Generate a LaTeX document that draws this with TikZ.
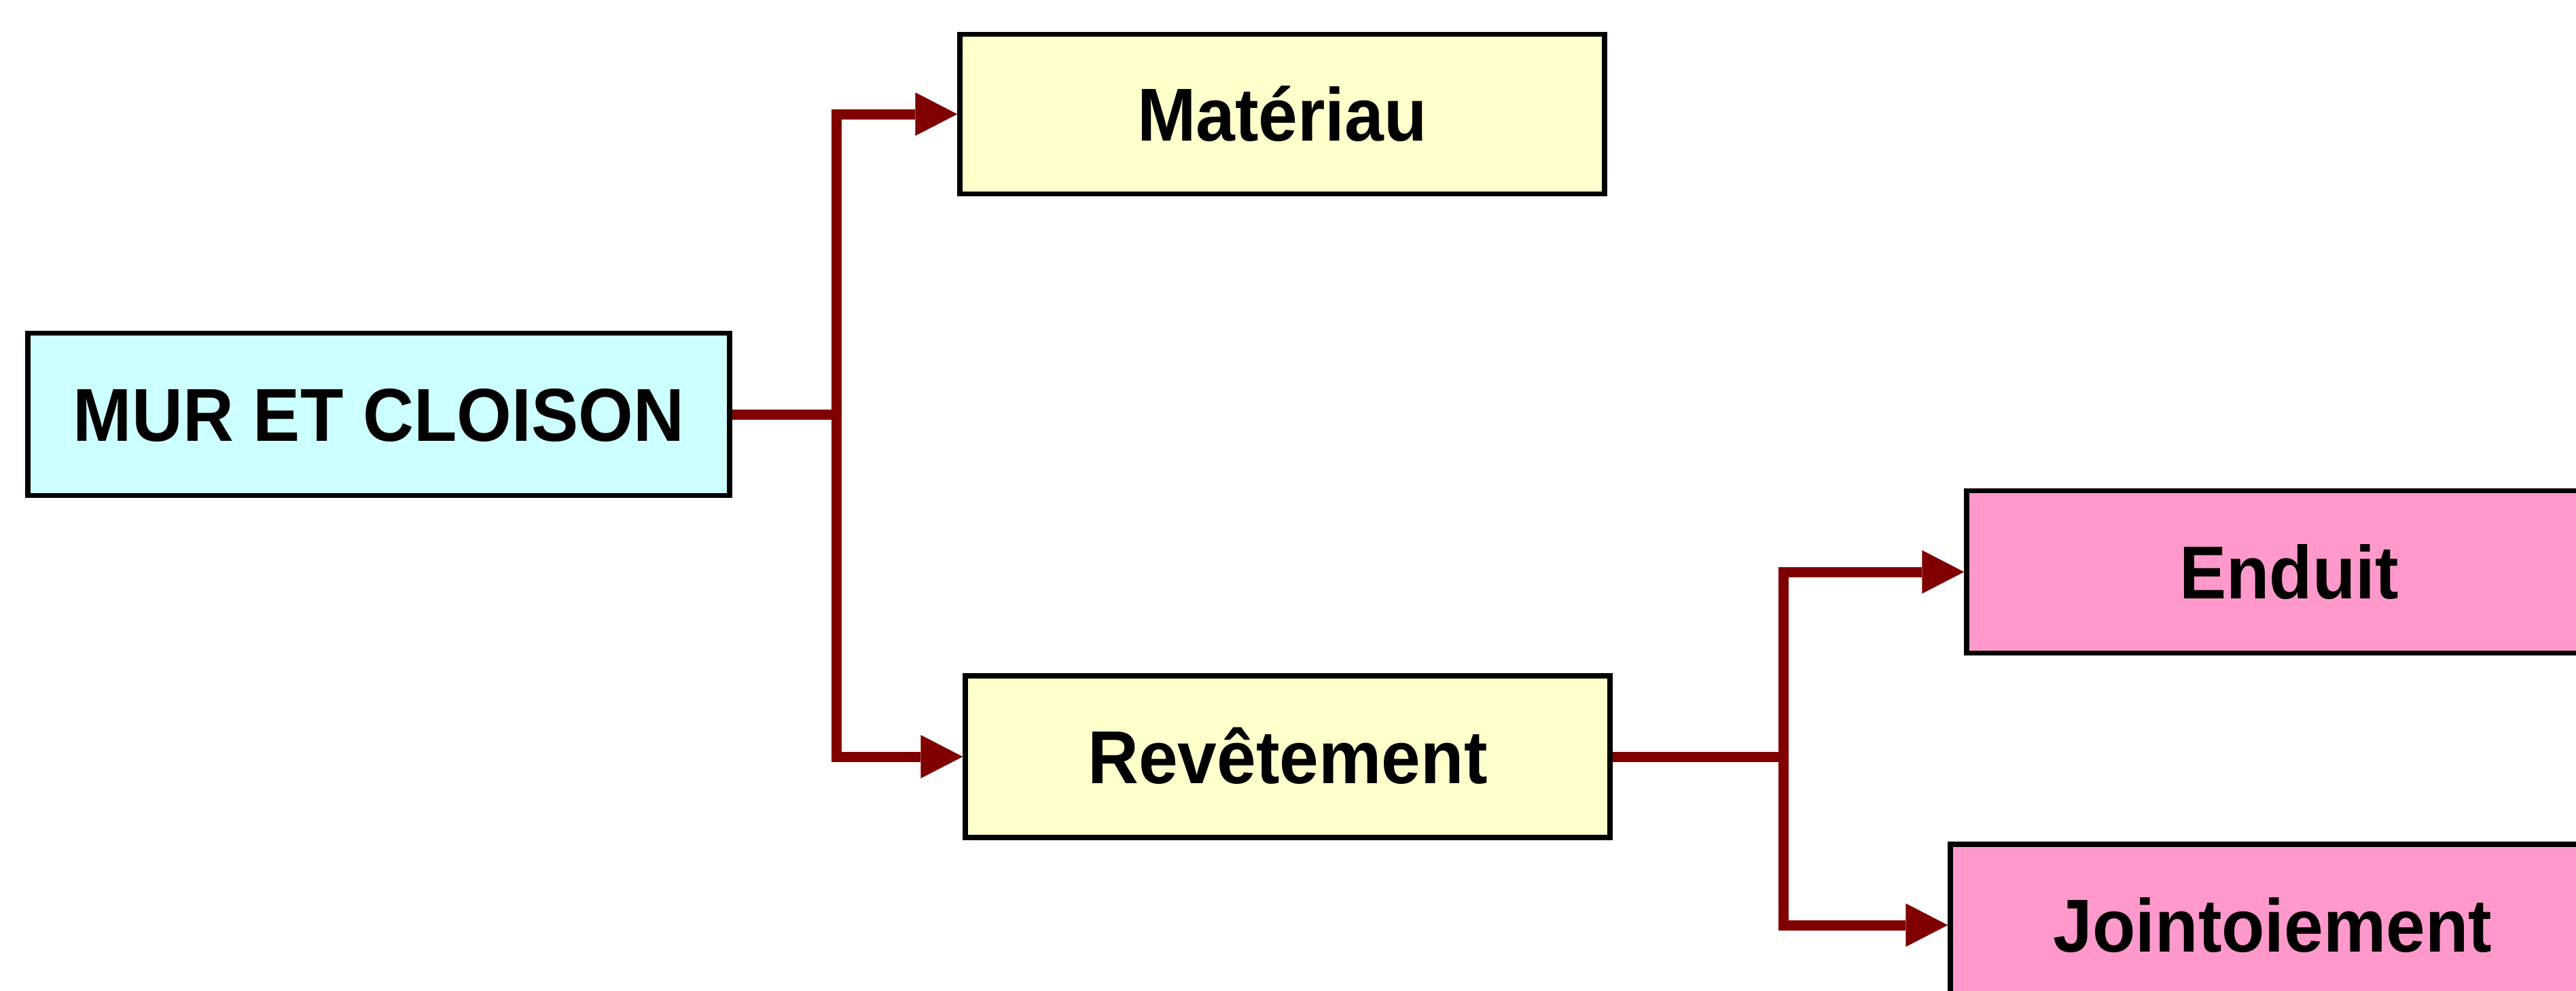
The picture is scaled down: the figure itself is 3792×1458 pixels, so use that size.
\documentclass[tikz,border=0pt]{standalone}
\usepackage{graphicx}
\usepackage{fontspec}
\setmainfont{Liberation Sans}
\usetikzlibrary{arrows.meta}
\definecolor{cyanbox}{HTML}{CCFFFF}
\definecolor{yellowbox}{HTML}{FFFFCC}
\definecolor{pinkbox}{HTML}{FF99CC}
\definecolor{linkred}{HTML}{800000}
\newcommand{\lbl}[1]{\scalebox{0.94}[1]{#1}}
\tikzset{
  box/.style={draw=black, line width=1.875pt, inner sep=0pt,
    minimum width=237.25pt, minimum height=59.5pt,
    text height=19.75pt, text depth=0pt,
    font=\fontsize{27.6pt}{30pt}\selectfont\bfseries},
  link/.style={draw=linkred, line width=3.75pt},
  arrowlink/.style={link, -{Triangle[length=15.5pt, width=16pt, line width=0pt]}}
}
\begin{document}
\begin{tikzpicture}[x=0.25pt, y=-0.25pt]
  \useasboundingbox (0,0) rectangle (3792,1458);
  \clip (0,0) rectangle (3792,1458);
  \fill[white] (0,0) rectangle (3792,1458);

  \node[box, fill=cyanbox, minimum width=258.25pt, minimum height=59.75pt] (mur) at (557.5,610) {\lbl{MUR ET CLOISON}};
  \node[box, fill=yellowbox, minimum height=58.75pt] (mat) at (1887.5,168) {\lbl{Matériau}};
  \node[box, fill=yellowbox] (rev) at (1895.5,1114) {\lbl{Revêtement}};
  \node[box, fill=pinkbox, minimum height=59.75pt] (end) at (3369.5,842) {\lbl{Enduit}};
  \node[box, fill=pinkbox] (joi) at (3345.5,1362) {\lbl{Jointoiement}};

  \coordinate (t1) at (1231,0);
  \coordinate (t2) at (2625,0);

  \draw[link] (mur.east) -- (mur.east -| t1);
  \draw[arrowlink] (mur.east -| t1) |- (mat.west);
  \draw[arrowlink] (mur.east -| t1) |- (rev.west);

  \draw[link] (rev.east) -- (rev.east -| t2);
  \draw[arrowlink] (rev.east -| t2) |- (end.west);
  \draw[arrowlink] (rev.east -| t2) |- (joi.west);
\end{tikzpicture}
\end{document}
